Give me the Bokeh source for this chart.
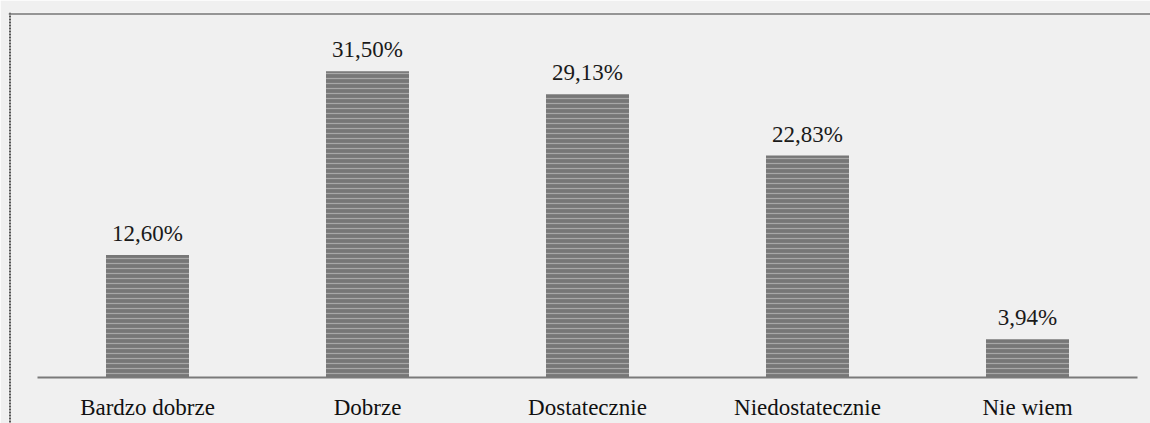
from bokeh.plotting import figure
from bokeh.models import Span, Range1d, FixedTicker, LabelSet, ColumnDataSource
from bokeh.embed import file_html
from bokeh.resources import INLINE

categories = ["Bardzo dobrze", "Dobrze", "Dostatecznie", "Niedostatecznie", "Nie wiem"]
values = [12.60, 31.50, 29.13, 22.83, 3.94]
value_labels = ["12,60%", "31,50%", "29,13%", "22,83%", "3,94%"]

W, H = 1150, 423
FL, FT = 8, 12            # frame left / top offsets (px)
x0_px = 37 - FL           # left end of axis line inside frame
step = 220                # px per category
base_px = 377 - FT        # baseline from frame top
ppu = 9.72                # px per percent
FW, FH = W - FL, H - FT
SERIF = "'Liberation Serif', 'Times New Roman', serif"

xs = [i + 0.5 for i in range(len(categories))]
src = ColumnDataSource(dict(x=xs, top=values, lab=value_labels))

p = figure(width=W, height=H, output_backend="svg", toolbar_location=None,
           x_range=Range1d(-x0_px / step, (FW - x0_px) / step),
           y_range=Range1d(-(FH - base_px) / ppu, base_px / ppu),
           y_axis_location=None,
           min_border=0, min_border_left=FL, min_border_right=0,
           min_border_top=FT, min_border_bottom=0)
p.background_fill_color = "#f0f0f0"
p.border_fill_color = "#f0f0f0"
p.outline_line_color = None
p.grid.visible = False

p.vbar(x="x", top="top", bottom=0, width=83 / step, source=src,
       fill_color="#777777", line_color=None,
       hatch_pattern="horizontal_line", hatch_color="#b0b0b0",
       hatch_scale=5, hatch_weight=1.2, hatch_alpha=0.85)

labels = LabelSet(x="x", y="top", text="lab", source=src, y_offset=14,
                  text_align="center", text_baseline="alphabetic",
                  text_font=SERIF, text_font_size="23px",
                  text_color="#1a1a1a")
p.add_layout(labels)

ax = p.xaxis[0]
ax.fixed_location = 0
ax.bounds = (0, len(categories))
ax.ticker = FixedTicker(ticks=xs)
ax.major_label_overrides = {x: c for x, c in zip(xs, categories)}
ax.major_tick_line_color = None
ax.minor_tick_line_color = None
ax.axis_line_color = "#7a7a7a"
ax.axis_line_width = 2
ax.major_label_standoff = 11
ax.major_label_text_font = SERIF
ax.major_label_text_font_size = "23px"
ax.major_label_text_color = "#111111"

left_border = Span(location=-(x0_px - 1.5) / step, dimension="height",
                   line_color="#555555", line_width=2, line_dash="2 1")
top_border = Span(location=(base_px - 1.5) / ppu, dimension="width",
                  line_color="#777777", line_width=1.5)
p.add_layout(left_border)
p.add_layout(top_border)

open("out.html", "w").write(file_html(p, INLINE))
